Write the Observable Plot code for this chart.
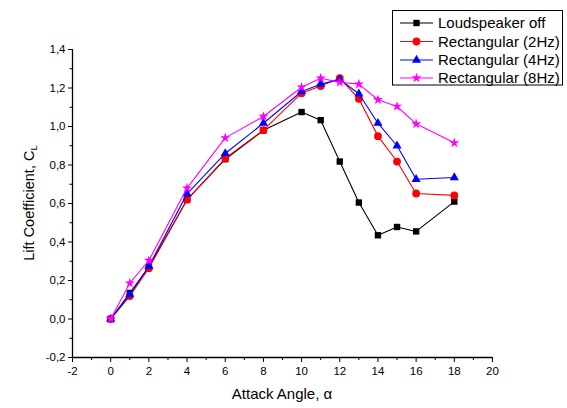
<!DOCTYPE html>
<html>
<head>
<meta charset="utf-8">
<script src="https://cdn.jsdelivr.net/npm/d3@7"></script>
<script src="https://cdn.jsdelivr.net/npm/@observablehq/plot@0.6"></script>
<style>
  html, body { margin: 0; padding: 0; background: #fff; }
  #chart { position: relative; width: 567px; height: 408px; }
  #chart svg { display: block; }
</style>
</head>
<body>
<div id="chart"></div>
<script>
// Attack angles (x)
const angles = [0, 1, 2, 4, 6, 8, 10, 11, 12, 13, 14, 15, 16, 18];
// Lift coefficient series
const speakerOff = [0.0, 0.135, 0.27, 0.62, 0.83, 0.98, 1.075, 1.033, 0.818, 0.605, 0.435, 0.478, 0.455, 0.61];
const rect2Hz    = [0.0, 0.119, 0.264, 0.62, 0.835, 0.981, 1.173, 1.21, 1.251, 1.144, 0.95, 0.818, 0.652, 0.642];
const rect4Hz    = [0.0, 0.127, 0.274, 0.65, 0.86, 1.017, 1.182, 1.22, 1.244, 1.17, 1.017, 0.90, 0.726, 0.735];
const rect8Hz    = [0.0, 0.186, 0.304, 0.68, 0.941, 1.052, 1.204, 1.251, 1.23, 1.22, 1.139, 1.104, 1.014, 0.915];
// Series names, colours, symbols
const seriesNames = ["Loudspeaker off", "Rectangular (2Hz)", "Rectangular (4Hz)", "Rectangular (8Hz)"];
const seriesColors = ["#000000", "#ff0000", "#0000ff", "#ff00ff"];
const seriesSymbols = ["square", "circle", "triangle", "star"];
const seriesValues = [speakerOff, rect2Hz, rect4Hz, rect8Hz];
const seriesRadius = [3.6, 3.9, 3.4, 3.2];
// Tick values
const xTicks = [-2, 0, 2, 4, 6, 8, 10, 12, 14, 16, 18, 20];
const xMinorTicks = [-1, 1, 3, 5, 7, 9, 11, 13, 15, 17, 19];
const yTicks = [-0.2, 0.0, 0.2, 0.4, 0.6, 0.8, 1.0, 1.2, 1.4];
const yMinorTicks = [-0.1, 0.1, 0.3, 0.5, 0.7, 0.9, 1.1, 1.3];

const data = [];
seriesValues.forEach((vals, s) => {
  vals.forEach((v, i) => data.push({series: seriesNames[s], s, x: angles[i], y: v}));
});

const fmt = d => (Math.abs(d) < 1e-9 ? 0 : d).toFixed(1).replace(".", ",");
const font = "'Liberation Sans', Arial, sans-serif";

const marks = [
  Plot.axisX({ticks: xTicks, tickSize: 5, tickPadding: 4, tickFormat: d => String(d), label: null, fontSize: 11.5}),
  Plot.axisX({ticks: xMinorTicks, tickSize: 3, tickFormat: () => "", label: null}),
  Plot.axisY({ticks: yTicks, tickSize: 4, tickPadding: 3, tickFormat: fmt, label: null, fontSize: 11.5}),
  Plot.axisY({ticks: yMinorTicks, tickSize: 2.5, tickFormat: () => "", label: null}),
  Plot.ruleY([-0.2], {stroke: "#000", strokeWidth: 1.3}),
  Plot.ruleX([-2], {stroke: "#000", strokeWidth: 1.3})
];
seriesNames.forEach((name, s) => {
  const d = data.filter(p => p.s === s);
  marks.push(Plot.line(d, {x: "x", y: "y", stroke: seriesColors[s], strokeWidth: 1.1}));
  marks.push(Plot.dot(d, {x: "x", y: "y", symbol: () => seriesSymbols[s], fill: seriesColors[s], stroke: "none", r: seriesRadius[s]}));
});

const chart = Plot.plot({
  width: 567,
  height: 408,
  marginLeft: 72,
  marginRight: 75,
  marginTop: 49,
  marginBottom: 51,
  x: {domain: [-2, 20]},
  y: {domain: [-0.2, 1.4]},
  style: {fontFamily: font, fontSize: "11.5px", color: "#000", background: "#fff"},
  marks
});
document.getElementById("chart").appendChild(chart);

// Axis titles with Greek letter / subscript
const svg = d3.select(chart);
svg.append("text")
  .attr("x", 282).attr("y", 399)
  .attr("text-anchor", "middle")
  .attr("font-family", font).attr("font-size", 15).attr("fill", "#000")
  .text("Attack Angle, α");
const yl = svg.append("text")
  .attr("transform", "translate(34,203) rotate(-90)")
  .attr("text-anchor", "middle")
  .attr("font-family", font).attr("font-size", 14.5).attr("fill", "#000");
yl.append("tspan").text("Lift Coefficient, C");
yl.append("tspan").attr("font-size", 9.5).attr("dy", 3).text("L");

// Legend box
const lg = svg.append("g").attr("text-anchor", "start");
lg.append("rect").attr("x", 392.5).attr("y", 10.5).attr("width", 170).attr("height", 74.5)
  .attr("fill", "#fff").attr("stroke", "#000").attr("stroke-width", 1);
const rowY = [23, 41.5, 60, 78];
const symMap = {square: d3.symbolSquare, circle: d3.symbolCircle, triangle: d3.symbolTriangle, star: d3.symbolStar};
seriesNames.forEach((name, s) => {
  const y = rowY[s];
  lg.append("line").attr("x1", 400).attr("x2", 433).attr("y1", y).attr("y2", y)
    .attr("stroke", seriesColors[s]).attr("stroke-width", 1.1);
  const r = seriesRadius[s];
  lg.append("path").attr("transform", `translate(416.5,${y})`)
    .attr("d", d3.symbol(symMap[seriesSymbols[s]], r * r * Math.PI)())
    .attr("fill", seriesColors[s]);
  lg.append("text").attr("x", 438).attr("y", y).attr("dy", "0.36em")
    .attr("text-anchor", "start")
    .attr("font-family", font).attr("font-size", 15).attr("fill", "#000")
    .text(name);
});
</script>
</body>
</html>
